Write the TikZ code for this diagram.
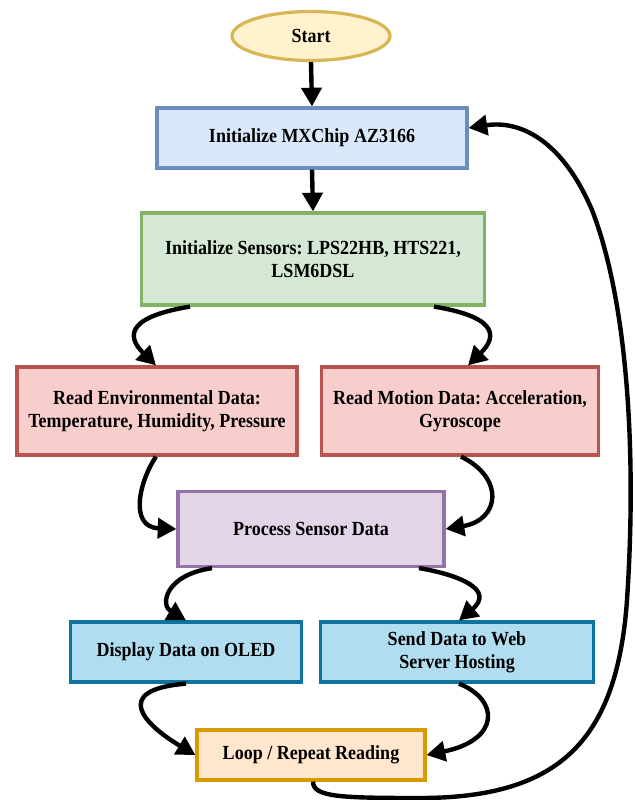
\documentclass[tikz,border=0pt]{standalone}
\usepackage{fontspec}
\setmainfont[FakeStretch=0.9]{Liberation Serif}
\usetikzlibrary{arrows.meta,calc,shapes.geometric}
\definecolor{yelF}{HTML}{FFF2CC}\definecolor{yelD}{HTML}{D6B656}
\definecolor{bluF}{HTML}{DAE8FC}\definecolor{bluD}{HTML}{6C8EBF}
\definecolor{grnF}{HTML}{D5E8D4}\definecolor{grnD}{HTML}{82B366}
\definecolor{redF}{HTML}{F8CECC}\definecolor{redD}{HTML}{B85450}
\definecolor{purF}{HTML}{E1D5E7}\definecolor{purD}{HTML}{9673A6}
\definecolor{cyaF}{HTML}{B1DDF0}\definecolor{cyaD}{HTML}{10739E}
\definecolor{orgF}{HTML}{FFE6CC}\definecolor{orgD}{HTML}{D79B00}
\tikzset{
  box/.style={draw, line width=2.4pt, align=center, inner sep=2pt,
    font=\frenchspacing\bfseries\fontsize{15pt}{17.5pt}\selectfont},
  arr/.style={line width=3.3pt, -{Triangle[length=14pt,width=15pt]}},
}
\begin{document}
\begin{tikzpicture}[x=0.75pt,y=-0.75pt]
\fill[white] (0,0) rectangle (635,800);
\useasboundingbox (0,0) rectangle (635,800);

\node[box, ellipse, fill=yelF, draw=yelD, minimum width=118.5pt, minimum height=36.75pt] (start) at (311,36) {Start};
\node[box, fill=bluF, draw=bluD, minimum width=232.5pt, minimum height=45pt] (mx) at (312,138) {Initialize MXChip AZ3166};
\node[box, fill=grnF, draw=grnD, minimum width=257.25pt, minimum height=69pt] (sens) at (313,259) {Initialize Sensors: LPS22HB, HTS221,\\LSM6DSL};
\node[box, fill=redF, draw=redD, minimum width=210pt, minimum height=66pt] (env) at (157,411) {Read Environmental Data:\\Temperature, Humidity, Pressure};
\node[box, fill=redF, draw=redD, minimum width=207.75pt, minimum height=66pt] (mot) at (460,411) {Read Motion Data: Acceleration,\\Gyroscope};
\node[box, fill=purF, draw=purD, minimum width=199.5pt, minimum height=56.25pt] (proc) at (311,529) {Process Sensor Data};
\node[box, fill=cyaF, draw=cyaD, minimum width=173.25pt, minimum height=45pt] (disp) at (186,652) {Display Data on OLED};
\node[box, fill=cyaF, draw=cyaD, minimum width=204.75pt, minimum height=45pt] (send) at (457,652) {Send Data to Web\\Server Hosting};
\node[box, fill=orgF, draw=orgD, minimum width=171pt, minimum height=37.5pt] (loop) at (311,755) {Loop / Repeat Reading};

\draw[arr] (start.south) -- (mx.north);
\draw[arr] (mx.south) -- (sens.north);
\draw[arr] ($(sens.south)+(-123,0)$) .. controls (120,318) and (130,340) .. ($(env.north)+(-1,0)$);
\draw[arr] ($(sens.south)+(121,0)$) .. controls (504,318) and (494,340) .. ($(mot.north)+(8,0)$);
\draw[arr] ($(env.south)+(-1,0)$) .. controls (140,480) and (128,527) .. (proc.west);
\draw[arr] ($(mot.south)+(1,0)$) .. controls (505,478) and (500,520) .. (proc.east);
\draw[arr] ($(proc.south)+(-99,0)$) .. controls (165,575) and (160,605) .. (disp.north);
\draw[arr] ($(proc.south)+(108,0)$) .. controls (460,575) and (495,590) .. ($(send.north)+(2,0)$);
\draw[arr] (disp.south) .. controls (110,690) and (145,725) .. (loop.west);
\draw[arr] ($(send.south)+(2,0)$) .. controls (500,700) and (500,740) .. (loop.east);
\draw[arr] ($(loop.south)+(2,0)$) .. controls (313,797) and (340,798) .. (420,798)
  .. controls (560,798) and (617,740) .. (627,600)
  .. controls (637,450) and (627,300) .. (592,210)
  .. controls (562,140) and (520,120) .. ($(mx.east)+(0,-10)$);
\end{tikzpicture}
\end{document}
